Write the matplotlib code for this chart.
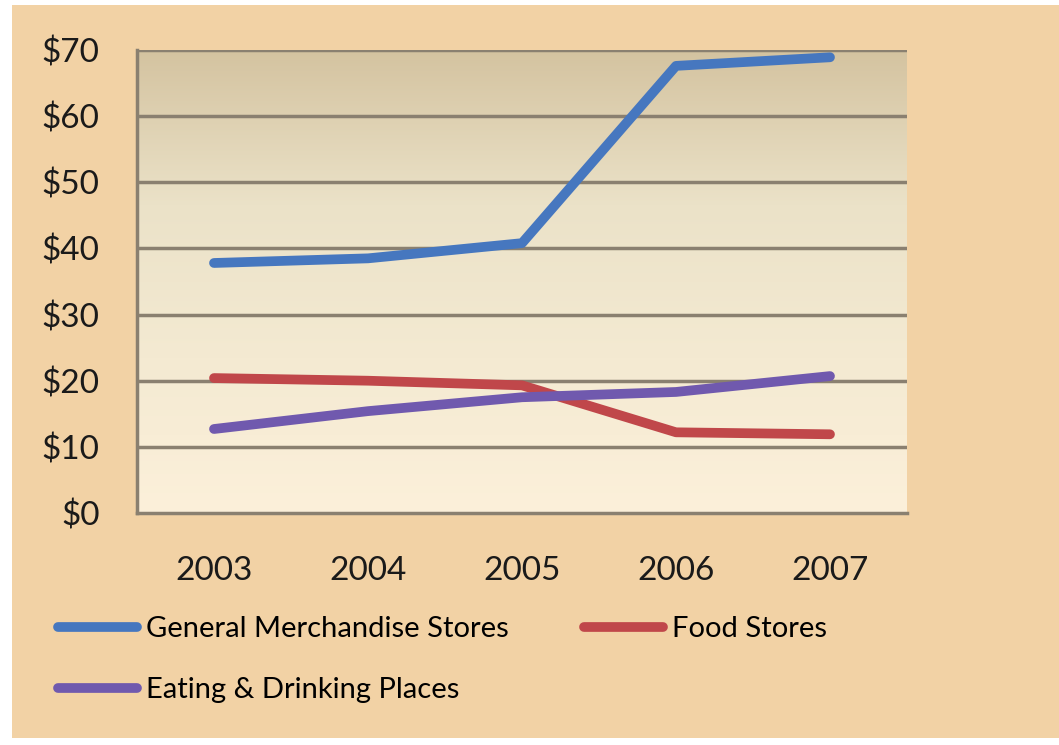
import numpy as np
import matplotlib
matplotlib.use("Agg")
from matplotlib import pyplot as plt
from matplotlib.patches import Rectangle

plt.rcParams['font.family'] = ['Lato', 'DejaVu Sans']

years = ['2003', '2004', '2005', '2006', '2007']
general = [37.8, 38.5, 40.8, 67.6, 68.9]
food = [20.4, 20.0, 19.3, 12.2, 11.9]
eating = [12.7, 15.4, 17.5, 18.3, 20.7]
yticks = [0, 10, 20, 30, 40, 50, 60, 70]

tan = '#F2D2A5'
grid_col = '#8A8070'

fig = plt.figure(figsize=(10.59, 7.45), dpi=100)
fig.patch.set_facecolor('white')
# tan card with a thin white margin on the left, top and bottom
fig.patches.append(Rectangle((12 / 1059, 7 / 745), 1 - 12 / 1059, 1 - 12 / 745,
                             transform=fig.transFigure, facecolor=tan,
                             edgecolor='none', zorder=-5))

ax = fig.add_axes([137 / 1059, 1 - 513 / 745, 770 / 1059, 463 / 745])
ax.set_facecolor('none')

# vertical gradient in the plot area
grad = np.linspace(0, 1, 256).reshape(-1, 1)
cmap = matplotlib.colors.LinearSegmentedColormap.from_list(
    'bg', ['#FCF0DA', '#F4EAD2', '#EBE2C8', '#D4C3A0'])
ax.imshow(grad, aspect='auto', cmap=cmap, origin='lower',
          extent=[-0.5, 4.5, 0, 70], zorder=0)

x = np.arange(len(years))
ax.plot(x, general, color='#4677BF', lw=7, solid_capstyle='round',
        label='General Merchandise Stores', zorder=3)
ax.plot(x, food, color='#C0474A', lw=7, solid_capstyle='round',
        label='Food Stores', zorder=3)
ax.plot(x, eating, color='#7059AE', lw=7, solid_capstyle='round',
        label='Eating & Drinking Places', zorder=3)

ax.set_xlim(-0.5, 4.5)
ax.set_ylim(0, 70)
ax.set_yticks(yticks)
ax.set_yticklabels(['$' + str(v) for v in yticks])
ax.set_xticks(x)
ax.set_xticklabels(years)
ax.tick_params(length=0, labelsize=24, colors='#1A1A1A')
ax.tick_params(axis='y', pad=27)
ax.tick_params(axis='x', pad=31)
for v in yticks[1:]:
    ax.axhline(v, color=grid_col, lw=2.5, zorder=1)
for s in ['top', 'right']:
    ax.spines[s].set_visible(False)
for s in ['left', 'bottom']:
    ax.spines[s].set_color(grid_col)
    ax.spines[s].set_linewidth(2.5)

h, l = ax.get_legend_handles_labels()
order = [0, 2, 1]
fig.legend([h[i] for i in order], [l[i] for i in order], ncol=2,
           loc='upper left', bbox_to_anchor=(32 / 1059, 1 - 590 / 745),
           frameon=False, fontsize=21, handlelength=2.7, handletextpad=0.3,
           columnspacing=2.6, labelspacing=1.2)

fig.savefig('out.png', dpi=100, facecolor=fig.get_facecolor())
